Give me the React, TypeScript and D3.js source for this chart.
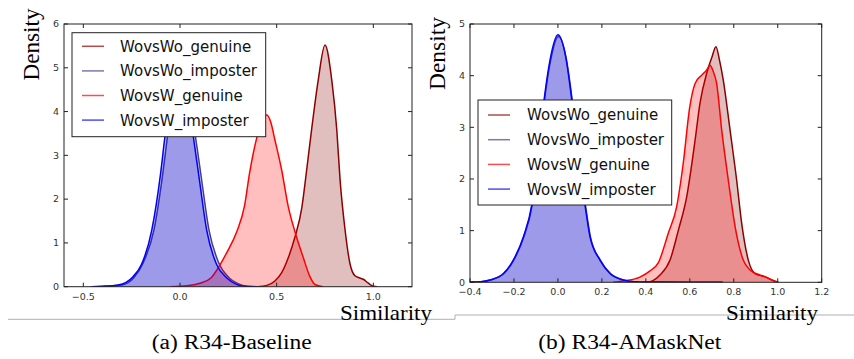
import React from 'react';
import * as d3 from 'd3';

type Pt = [number, number];

const SERIES_NAMES = ['WovsWo_genuine', 'WovsWo_imposter', 'WovsW_genuine', 'WovsW_imposter'];
const SERIES_COLORS = ['#8b0000', '#483d8b', '#ff0000', '#0000ff'];

// Panel (a) R34-Baseline
const A_X_TICKS = [-0.5, 0, 0.5, 1.0];
const A_Y_TICKS = [0, 1, 2, 3, 4, 5, 6];
const A_WOWO_GENUINE: Pt[] = [[0.40, 0], [0.449, 0.03], [0.491, 0.13], [0.526, 0.32], [0.56, 0.66], [0.595, 1.14], [0.63, 1.8], [0.655, 2.66], [0.681, 3.6], [0.715, 4.72], [0.75, 5.52], [0.785, 4.72], [0.811, 3.58], [0.828, 2.44], [0.854, 1.29], [0.879, 0.53], [0.905, 0.25], [0.93, 0.2], [0.948, 0.17], [0.974, 0.08], [1.0, 0.01], [1.02, 0]];
const A_WOWO_IMPOSTER: Pt[] = [[-0.45, 0], [-0.38, 0.01], [-0.3, 0.04], [-0.24, 0.2], [-0.19, 0.55], [-0.135, 1.29], [-0.09, 2.55], [-0.065, 3.42], [-0.035, 4.3], [0.005, 4.62], [0.045, 4.3], [0.08, 3.42], [0.11, 2.5], [0.15, 1.29], [0.2, 0.55], [0.255, 0.2], [0.3, 0.07], [0.35, 0.01], [0.4, 0]];
const A_WOW_GENUINE: Pt[] = [[-0.05, 0], [0.035, 0.02], [0.103, 0.08], [0.16, 0.2], [0.207, 0.5], [0.242, 0.78], [0.293, 1.25], [0.334, 1.85], [0.36, 2.6], [0.397, 3.4], [0.425, 3.8], [0.449, 3.92], [0.47, 3.75], [0.491, 3.35], [0.526, 2.66], [0.56, 1.83], [0.595, 1.25], [0.638, 0.66], [0.672, 0.23], [0.698, 0.05], [0.74, 0]];
const A_WOW_IMPOSTER: Pt[] = [[-0.46, 0], [-0.4, 0.01], [-0.32, 0.04], [-0.243, 0.23], [-0.2, 0.5], [-0.146, 1.29], [-0.1, 2.6], [-0.078, 3.42], [-0.045, 4.35], [-0.005, 4.7], [0.035, 4.35], [0.069, 3.42], [0.1, 2.45], [0.138, 1.29], [0.19, 0.5], [0.242, 0.2], [0.29, 0.06], [0.345, 0.005], [0.4, 0]];

// Panel (b) R34-AMaskNet
const B_X_TICKS = [-0.4, -0.2, 0, 0.2, 0.4, 0.6, 0.8, 1.0, 1.2];
const B_Y_TICKS = [0, 1, 2, 3, 4, 5];
const B_WOWO_GENUINE: Pt[] = [[0.40, 0], [0.419, 0.01], [0.464, 0.14], [0.51, 0.43], [0.548, 1.01], [0.586, 1.66], [0.624, 2.75], [0.646, 3.46], [0.677, 4.05], [0.7, 4.35], [0.719, 4.56], [0.735, 4.3], [0.752, 3.92], [0.783, 2.95], [0.813, 1.98], [0.836, 1.14], [0.866, 0.43], [0.897, 0.17], [0.942, 0.11], [0.973, 0.045], [1.003, 0]];
const B_WOWO_IMPOSTER: Pt[] = [[-0.4, 0.005], [-0.35, 0.012], [-0.307, 0.045], [-0.246, 0.17], [-0.201, 0.43], [-0.155, 0.88], [-0.117, 1.5], [-0.088, 2.5], [-0.061, 3.53], [-0.034, 4.28], [0.002, 4.76], [0.038, 4.33], [0.065, 3.53], [0.092, 2.5], [0.125, 1.5], [0.148, 0.88], [0.193, 0.43], [0.239, 0.17], [0.299, 0.045], [0.35, 0.012], [0.45, 0.005], [0.6, 0.003], [0.75, 0]];
const B_WOW_GENUINE: Pt[] = [[0.25, 0], [0.305, 0.03], [0.373, 0.1], [0.419, 0.22], [0.457, 0.38], [0.502, 0.95], [0.54, 1.46], [0.57, 2.3], [0.6, 3.4], [0.624, 3.85], [0.654, 4.01], [0.675, 4.1], [0.692, 4.2], [0.705, 4.1], [0.722, 3.85], [0.745, 2.95], [0.775, 1.98], [0.806, 1.08], [0.843, 0.43], [0.874, 0.24], [0.919, 0.14], [0.957, 0.08], [0.995, 0]];
const B_WOW_IMPOSTER: Pt[] = [[-0.4, 0.005], [-0.35, 0.012], [-0.309, 0.045], [-0.248, 0.17], [-0.203, 0.43], [-0.157, 0.88], [-0.119, 1.5], [-0.09, 2.5], [-0.063, 3.53], [-0.036, 4.3], [0, 4.79], [0.036, 4.35], [0.063, 3.53], [0.09, 2.5], [0.123, 1.5], [0.146, 0.88], [0.191, 0.43], [0.237, 0.17], [0.297, 0.045], [0.35, 0.012], [0.45, 0.005], [0.6, 0.003], [0.75, 0]];

const SANS = '"DejaVu Sans", Verdana, sans-serif';
const SERIF = '"Liberation Serif", "Times New Roman", serif';

interface PanelProps {
  id: string;
  left: number; right: number; top: number; bottom: number;
  xDomain: [number, number]; yDomain: [number, number];
  xTicks: number[]; yTicks: number[];
  series: Pt[][];
  legend: { x: number; y: number; w: number; h: number; row0: number; step: number; lineX: number; textX: number };
}

function Panel(p: PanelProps) {
  const x = d3.scaleLinear().domain(p.xDomain).range([p.left, p.right]);
  const y = d3.scaleLinear().domain(p.yDomain).range([p.bottom, p.top]);
  const area = d3.area<Pt>().x(d => x(d[0])).y0(y(0)).y1(d => y(d[1])).curve(d3.curveMonotoneX);
  const line = d3.line<Pt>().x(d => x(d[0])).y(d => y(d[1])).curve(d3.curveMonotoneX);
  const fx = d3.format('.1f');
  const L = p.legend;
  return (
    <g>
      <defs>
        <clipPath id={p.id}>
          <rect x={p.left} y={p.top} width={p.right - p.left} height={p.bottom - p.top} />
        </clipPath>
      </defs>
      <g clipPath={`url(#${p.id})`}>
        {p.series.map((s, i) => (
          <g key={i}>
            <path d={area(s) || ''} fill={SERIES_COLORS[i]} fillOpacity={0.25} stroke="none" />
            <path d={line(s) || ''} fill="none" stroke={SERIES_COLORS[i]} strokeWidth={1.5} />
          </g>
        ))}
      </g>
      <rect x={p.left} y={p.top} width={p.right - p.left} height={p.bottom - p.top} fill="none" stroke="#222" strokeWidth={1} />
      {p.xTicks.map(t => (
        <g key={'x' + t}>
          <line x1={x(t)} x2={x(t)} y1={p.bottom} y2={p.bottom - 4} stroke="#222" />
          <line x1={x(t)} x2={x(t)} y1={p.top} y2={p.top + 4} stroke="#222" />
          <text x={x(t)} y={p.bottom + 13} textAnchor="middle" fontFamily={SANS} fontSize={9.5} fill="#333">{fx(t)}</text>
        </g>
      ))}
      {p.yTicks.map(t => (
        <g key={'y' + t}>
          <line x1={p.left} x2={p.left + 4} y1={y(t)} y2={y(t)} stroke="#222" />
          <line x1={p.right} x2={p.right - 4} y1={y(t)} y2={y(t)} stroke="#222" />
          <text x={p.left - 5} y={y(t)} dy="0.35em" textAnchor="end" fontFamily={SANS} fontSize={9.5} fill="#333">{t}</text>
        </g>
      ))}
      <rect x={L.x} y={L.y} width={L.w} height={L.h} fill="#fff" stroke="#222" strokeWidth={1} />
      {SERIES_NAMES.map((n, i) => {
        const ry = L.row0 + i * L.step;
        return (
          <g key={n}>
            <line x1={L.lineX} x2={L.lineX + 22} y1={ry} y2={ry} stroke={SERIES_COLORS[i]} strokeOpacity={0.7} strokeWidth={1.5} />
            <text x={L.textX} y={ry} dy="0.36em" fontFamily={SANS} fontSize={15} fill="#111">{n}</text>
          </g>
        );
      })}
    </g>
  );
}

export default function App() {
  return (
    <svg width={854} height={359} style={{ position: 'absolute', left: 0, top: 0, background: '#fff' }}>
      <rect x={0} y={0} width={854} height={359} fill="#fff" />
      <path d="M8,319.3 H455 V315 H854" fill="none" stroke="#b0b0b0" strokeWidth={1} />
      <Panel
        id="clipA" left={64} right={412} top={24} bottom={286.7}
        xDomain={[-0.6, 1.2]} yDomain={[0, 6]} xTicks={A_X_TICKS} yTicks={A_Y_TICKS}
        series={[A_WOWO_GENUINE, A_WOWO_IMPOSTER, A_WOW_GENUINE, A_WOW_IMPOSTER]}
        legend={{ x: 72, y: 32.7, w: 193.7, h: 104, row0: 46.3, step: 24.6, lineX: 82, textX: 120 }}
      />
      <Panel
        id="clipB" left={470} right={821.7} top={24} bottom={282.3}
        xDomain={[-0.4, 1.2]} yDomain={[0, 5]} xTicks={B_X_TICKS} yTicks={B_Y_TICKS}
        series={[B_WOWO_GENUINE, B_WOWO_IMPOSTER, B_WOW_GENUINE, B_WOW_IMPOSTER]}
        legend={{ x: 478, y: 100, w: 193.7, h: 105, row0: 115, step: 24.7, lineX: 488, textX: 527 }}
      />
      <text transform="translate(38.5,44.5) rotate(-90)" textAnchor="middle" fontFamily={SERIF} fontSize={23} textLength={72} lengthAdjust="spacingAndGlyphs" fill="#000">Density</text>
      <text transform="translate(445,53.5) rotate(-90)" textAnchor="middle" fontFamily={SERIF} fontSize={23} textLength={73} lengthAdjust="spacingAndGlyphs" fill="#000">Density</text>
      <text x={340} y={319.5} fontFamily={SERIF} fontSize={21} textLength={92} lengthAdjust="spacingAndGlyphs" fill="#000">Similarity</text>
      <text x={726} y={320} fontFamily={SERIF} fontSize={21} textLength={92} lengthAdjust="spacingAndGlyphs" fill="#000">Similarity</text>
      <text x={151.7} y={348.5} fontFamily={SERIF} fontSize={20} textLength={160} lengthAdjust="spacingAndGlyphs" fill="#000">(a) R34-Baseline</text>
      <text x={538.3} y={348.5} fontFamily={SERIF} fontSize={20} textLength={183} lengthAdjust="spacingAndGlyphs" fill="#000">(b) R34-AMaskNet</text>
    </svg>
  );
}
